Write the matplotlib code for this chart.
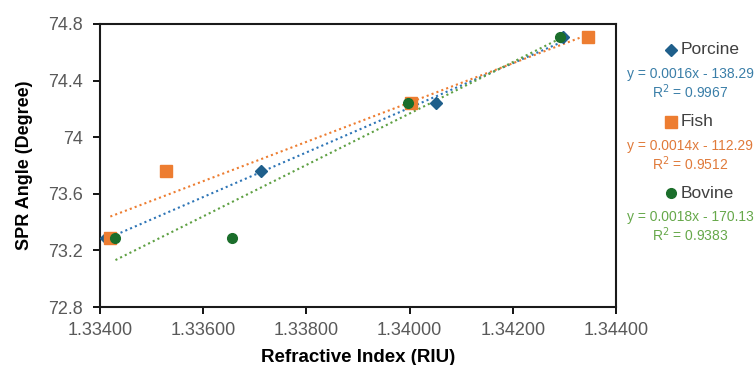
import numpy as np
import matplotlib
matplotlib.use("Agg")
import matplotlib.pyplot as plt
from matplotlib.lines import Line2D

plt.rcParams['font.family'] = ['Liberation Sans', 'DejaVu Sans']

# Data
porcine_x = [1.33412, 1.33712, 1.34051, 1.34298]
porcine_y = [73.29, 73.76, 74.24, 74.71]
fish_x = [1.33420, 1.33527, 1.34002, 1.34346]
fish_y = [73.29, 73.76, 74.24, 74.71]
bovine_x = [1.33430, 1.33655, 1.33997, 1.34291]
bovine_y = [73.29, 73.29, 74.24, 74.71]

series_names = ["Porcine", "Fish", "Bovine"]
equations = ["y = 0.0016x - 138.29", "y = 0.0014x - 112.29", "y = 0.0018x - 170.13"]
r2_texts = ["R$^2$ = 0.9967", "R$^2$ = 0.9512", "R$^2$ = 0.9383"]

x_ticks = [1.334, 1.336, 1.338, 1.340, 1.342, 1.344]
x_tick_labels = ["1.33400", "1.33600", "1.33800", "1.34000", "1.34200", "1.34400"]
y_ticks = [72.8, 73.2, 73.6, 74.0, 74.4, 74.8]
y_tick_labels = ["72.8", "73.2", "73.6", "74", "74.4", "74.8"]

marker_colors = ["#1F5F8B", "#ED7D31", "#1B6E2B"]
trend_colors = ["#2E75B6", "#ED7D31", "#5EA043"]
eq_colors = ["#3A7EA8", "#E07A3A", "#66A84A"]
markers = ["D", "s", "o"]
msizes = [6, 8, 7]

fig = plt.figure(figsize=(7.56, 3.65), dpi=100)
ax = fig.add_axes([100/756, 1-307/365, 516/756, 283/365])

data = [(porcine_x, porcine_y), (fish_x, fish_y), (bovine_x, bovine_y)]
# trendlines
for (xs, ys), c in zip(data, trend_colors):
    p = np.polyfit(xs, ys, 1)
    xx = np.array([min(xs), max(xs)])
    ax.plot(xx, np.polyval(p, xx), linestyle=(0, (1, 1.5)), color=c, lw=1.5, zorder=2)
for (xs, ys), c, m, s in zip(data, marker_colors, markers, msizes):
    ax.plot(xs, ys, linestyle='none', marker=m, color=c, markersize=s, zorder=3)

ax.set_xlim(1.334, 1.344)
ax.set_ylim(72.8, 74.8)
ax.set_xticks(x_ticks)
ax.set_xticklabels(x_tick_labels)
ax.set_yticks(y_ticks)
ax.set_yticklabels(y_tick_labels)
ax.tick_params(axis='both', labelsize=13, colors='#000000', labelcolor='#595959', length=5, width=1.3, direction='out')
ax.tick_params(axis='y', pad=7)
ax.tick_params(axis='x', pad=6)
for sp in ax.spines.values():
    sp.set_linewidth(1.5)
    sp.set_color('#1a1a1a')
ax.set_xlabel("Refractive Index (RIU)", fontsize=13.5, fontweight='bold', labelpad=7)
ax.set_ylabel("SPR Angle (Degree)", fontsize=13, fontweight='bold', labelpad=11)

# Legend with equations
name_y = [50, 122, 193]
for i in range(3):
    yf = 1 - name_y[i]/365
    fig.add_artist(Line2D([671/756], [yf], marker=markers[i], color=marker_colors[i],
                          markersize=msizes[i], linestyle='none', transform=fig.transFigure))
    fig.text(681/756, yf, series_names[i], fontsize=12.5, color='#404040', va='center', ha='left')
    fig.text(690/756, 1 - (name_y[i]+24)/365, equations[i], fontsize=10, color=eq_colors[i], va='center', ha='center')
    fig.text(690/756, 1 - (name_y[i]+42)/365, r2_texts[i], fontsize=10, color=eq_colors[i], va='center', ha='center')

fig.savefig("out.png", dpi=100)
